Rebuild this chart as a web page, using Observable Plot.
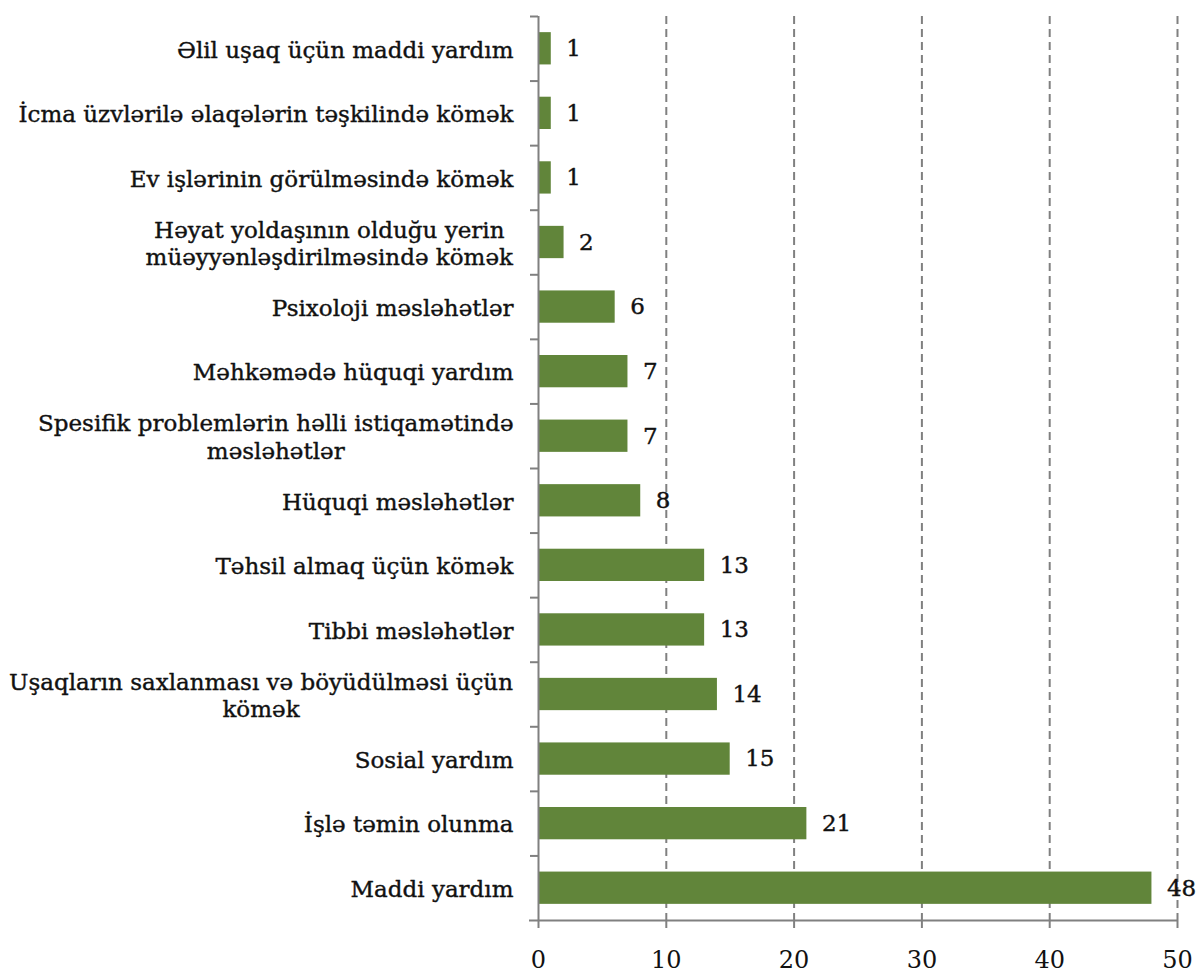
<!DOCTYPE html>
<html><head><meta charset="utf-8">
<script src="https://cdn.jsdelivr.net/npm/d3@7"></script>
<script src="https://cdn.jsdelivr.net/npm/@observablehq/plot@0.6"></script>
<style>body{margin:0;background:#fff}</style>
</head><body><div id="chart"></div>
<script>
const categories = [
  "Əlil uşaq üçün maddi yardım",
  "İcma üzvlərilə əlaqələrin təşkilində kömək",
  "Ev işlərinin görülməsində kömək",
  "Həyat yoldaşının olduğu yerin\nmüəyyənləşdirilməsində kömək",
  "Psixoloji məsləhətlər",
  "Məhkəmədə hüquqi yardım",
  "Spesifik problemlərin həlli istiqamətində\nməsləhətlər",
  "Hüquqi məsləhətlər",
  "Təhsil almaq üçün kömək",
  "Tibbi məsləhətlər",
  "Uşaqların saxlanması və böyüdülməsi üçün\nkömək",
  "Sosial yardım",
  "İşlə təmin olunma",
  "Maddi yardım"
];
const values = [1, 1, 1, 2, 6, 7, 7, 8, 13, 13, 14, 15, 21, 48];
const xTicks = [0, 10, 20, 30, 40, 50];

const data = categories.map((c, i) => ({category: c, value: values[i]}));
const W = 1199, H = 974, mt = 16, mb = 54, ml = 538, mr = 22;
const step = (H - mt - mb) / categories.length;
const gray = "#808080";
const ink = "#111";
const fs = 23;

const chart = Plot.plot({
  width: W, height: H,
  marginTop: mt, marginBottom: mb, marginLeft: ml, marginRight: mr,
  style: {fontFamily: "DejaVu Serif", fontSize: fs + "px", color: ink, background: "#fff", overflow: "visible"},
  x: {domain: [0, 50], axis: null},
  y: {domain: categories, paddingInner: 0.5, paddingOuter: 0.25, round: false, axis: null},
  marks: [
    Plot.ruleX(xTicks.slice(1), {stroke: gray, strokeWidth: 2, strokeDasharray: "8,5"}),
    Plot.barX(data, {x: "value", y: "category", fill: "#61853a"}),
    Plot.ruleX([0], {stroke: gray, strokeWidth: 2}),
    Plot.ruleY([categories[categories.length - 1]], {dy: step / 2, stroke: gray, strokeWidth: 2, insetLeft: -9}),
    Plot.axisY({ticks: categories, tickSize: 8, tickFormat: () => "", label: null, dy: -step / 2, stroke: gray, strokeWidth: 2}),
    Plot.axisX({ticks: xTicks, tickSize: 8, tickPadding: 22, label: null, stroke: gray, strokeWidth: 2, fontSize: 24, fill: ink}),
    Plot.text(data, {x: "value", y: "category", text: d => String(d.value), dx: 15, textAnchor: "start", fontSize: fs, fill: ink, stroke: ink, strokeWidth: 0.4}),
    Plot.text(data, {x: 0, y: "category", text: "category", textAnchor: "end", dx: -25, lineAnchor: "middle", lineHeight: 1.2, fontSize: fs, fill: ink, stroke: ink, strokeWidth: 0.4})
  ]
});
document.getElementById("chart").append(chart);
// center the lines of multi-line labels within their right-aligned block
const textGroups = chart.querySelectorAll('g[aria-label="text"]');
const labelGroup = textGroups[textGroups.length - 1];
labelGroup.querySelectorAll("text").forEach(t => {
  if (t.querySelectorAll("tspan").length > 1) {
    const w = t.getBBox().width;
    t.setAttribute("text-anchor", "middle");
    const tr = t.getAttribute("transform") || "";
    t.setAttribute("transform", tr + ` translate(${-w / 2},0)`);
  }
});
</script>
</body></html>
